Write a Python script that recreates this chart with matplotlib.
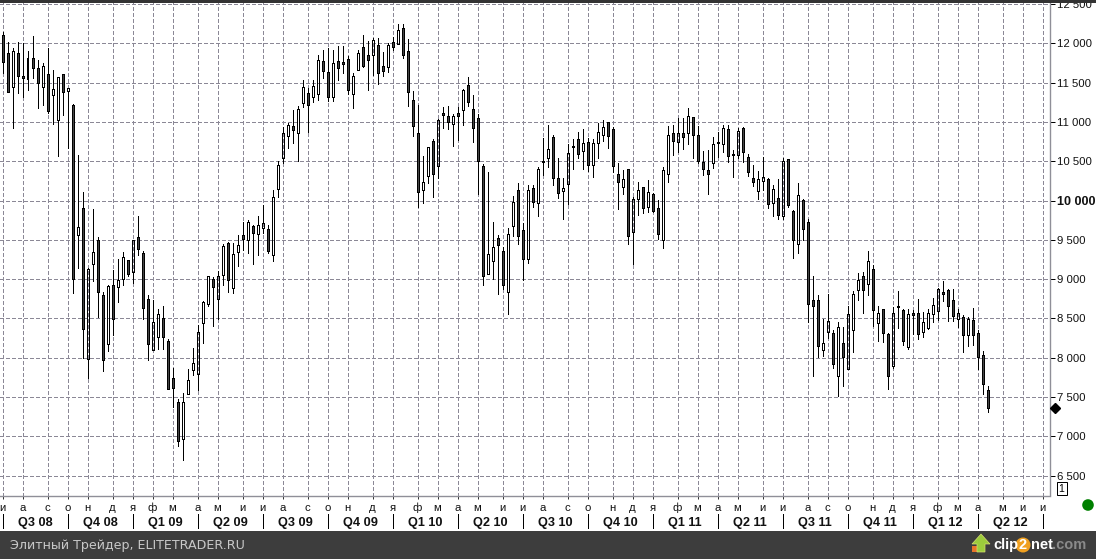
#!/usr/bin/env python3
"""Недельные свечи, 2008-2012, скриншот терминала."""

import matplotlib
matplotlib.use('Agg')
import matplotlib.pyplot as plt
import numpy as np
from matplotlib.patches import Circle, Polygon, Rectangle

W, H = 1096, 559

highs = [
    12140, 12013, 11937, 12013, 12000, 11902, 12093, 11784, 11746, 11937,
    11661, 11568, 11606, 11435, 11224, 10579, 10109, 9138, 9893, 9533,
    8833, 8922, 9117, 9257, 9342, 9244, 9498, 9800, 9354, 8795,
    8731, 8617, 8655, 8235, 7874, 7472, 7548, 7853, 8121, 8417,
    8718, 9037, 9024, 9104, 9443, 9469, 9460, 9558, 9723, 9749,
    9685, 9800, 9943, 9685, 10130, 10499, 10939, 10983, 11148, 11199,
    11530, 11432, 11530, 11848, 11911, 11937, 11911, 11962, 11962, 11835,
    11622, 11915, 12106, 12026, 12064, 12064, 11886, 12000, 12084, 12246,
    12246, 12051, 11390, 11215, 10567, 10677, 10779, 11034, 11186, 11199,
    11097, 11186, 11415, 11568, 11339, 11097, 10461, 10359, 9723, 9558,
    9405, 9647, 10054, 10219, 9711, 10194, 10194, 10423, 10792, 10957,
    10830, 10537, 10287, 10715, 10779, 10868, 10906, 10792, 10779, 10983,
    11025, 11003, 10932, 10481, 10389, 10398, 10041, 10232, 10176, 10261,
    10092, 10003, 10423, 10944, 10957, 11046, 11046, 11173, 11067, 10944,
    10626, 10639, 10805, 10872, 10961, 10961, 10639, 10919, 10932, 10588,
    10448, 10372, 10554, 10283, 10194, 10270, 10537, 10525, 9876, 10219,
    10016, 9761, 9037, 8795, 8489, 8807, 8350, 8451, 8388, 8655,
    8853, 9075, 9087, 9354, 9176, 8655, 8620, 8311, 8642, 8846,
    8617, 8617, 8604, 8744, 8579, 8617, 8757, 8884, 8973, 8871,
    8871, 8617, 8541, 8515, 8629, 8350, 8083, 7637,
]
body_tops = [
    12102, 11873, 11898, 11873, 11580, 11809, 11809, 11682, 11708, 11606,
    11415, 11568, 11606, 11428, 11212, 9660, 9901, 9125, 9342, 9494,
    8795, 8909, 8922, 8986, 9278, 9240, 9494, 9540, 9329, 8744,
    8451, 8553, 8502, 8210, 7739, 7434, 7434, 7714, 7930, 8324,
    8706, 9037, 8998, 9037, 9418, 9456, 9316, 9431, 9558, 9723,
    9672, 9685, 9711, 9634, 10041, 10448, 10855, 10957, 10944, 11161,
    11441, 11364, 11453, 11784, 11771, 11631, 11746, 11771, 11759, 11797,
    11580, 11873, 11949, 11848, 12038, 11975, 11708, 11975, 12013, 12166,
    12191, 11898, 11275, 10855, 10232, 10677, 10754, 11021, 11110, 11072,
    11072, 11110, 11402, 11466, 11161, 11046, 10436, 9316, 9405, 9520,
    9354, 9571, 9978, 10130, 9622, 10130, 10156, 10398, 10499, 10652,
    10805, 10283, 10156, 10601, 10690, 10779, 10728, 10741, 10728, 10868,
    10932, 10995, 10906, 10334, 10270, 10398, 10016, 10130, 10169, 10105,
    10080, 9901, 10385, 10830, 10855, 10855, 10855, 11072, 11059, 10830,
    10487, 10385, 10715, 10741, 10919, 10906, 10588, 10881, 10919, 10550,
    10283, 10270, 10296, 10278, 10143, 10029, 10499, 10525, 9871, 10067,
    10003, 9723, 8731, 8731, 8184, 8464, 8311, 8388, 8184, 8553,
    8807, 8986, 9037, 9227, 9125, 8566, 8617, 8299, 8566, 8655,
    8604, 8553, 8566, 8566, 8451, 8566, 8668, 8871, 8833, 8858,
    8731, 8566, 8515, 8489, 8477, 8311, 8032, 7587,
]
body_bottoms = [
    11766, 11385, 11448, 11588, 11563, 11550, 11690, 11499, 11448, 11143,
    11346, 11028, 11385, 11397, 9000, 9558, 8362, 7981, 9189, 8833,
    7976, 8172, 8489, 8897, 9000, 9070, 9087, 9380, 8629, 8172,
    8103, 8268, 8268, 7607, 7620, 6938, 6963, 7543, 7841, 7790,
    8439, 8688, 8897, 8744, 9049, 8986, 8884, 9342, 9515, 9494,
    9583, 9571, 9647, 9354, 9304, 10143, 10537, 10817, 10901, 10855,
    11245, 11219, 11321, 11351, 11644, 11321, 11321, 11682, 11741, 11410,
    11359, 11657, 11708, 11784, 11848, 11619, 11644, 11695, 11949, 11987,
    11848, 11377, 10952, 10105, 10130, 10308, 10334, 10436, 11084, 10995,
    10970, 11072, 11148, 11257, 10919, 10499, 9044, 9062, 9227, 9431,
    8922, 8833, 9672, 9545, 9253, 9253, 9985, 9965, 10487, 10537,
    10283, 10092, 10118, 10207, 10677, 10588, 10626, 10448, 10448, 10728,
    10830, 10817, 10436, 10232, 10169, 9545, 9596, 10016, 9901, 9914,
    9863, 9571, 9494, 10334, 10754, 10741, 10805, 10855, 10830, 10499,
    10398, 10334, 10474, 10728, 10715, 10563, 10576, 10576, 10614, 10359,
    10232, 10118, 10245, 9952, 9965, 9812, 9800, 9940, 9494, 9443,
    9634, 8680, 8655, 8146, 8095, 8324, 7917, 7764, 8006, 7853,
    8350, 8858, 8858, 8935, 8604, 8439, 8311, 7764, 7892, 8642,
    8210, 8133, 8541, 8299, 8324, 8375, 8553, 8591, 8808, 8655,
    8528, 8489, 8286, 8286, 8286, 8006, 7663, 7358,
]
lows = [
    11619, 11385, 10927, 11372, 11321, 11406, 11555, 11181, 11219, 11117,
    10978, 10570, 11092, 10672, 8828, 9146, 7993, 7743, 8980, 8523,
    7836, 8090, 8290, 8713, 8930, 9044, 8951, 9311, 8497, 7976,
    8095, 8116, 8116, 7607, 7378, 6878, 6700, 7535, 7781, 7590,
    8184, 8662, 8408, 8497, 8926, 8841, 8828, 9171, 9375, 9337,
    9197, 9304, 9591, 9329, 9235, 10049, 10474, 10668, 10728, 10503,
    11190, 10868, 11254, 11279, 11563, 11266, 11266, 11537, 11619, 11355,
    11181, 11657, 11695, 11410, 11593, 11479, 11588, 11639, 11915, 11987,
    11817, 11207, 10825, 9922, 9973, 10227, 10049, 10291, 10919, 10914,
    10698, 10770, 10965, 11207, 10749, 10080, 8930, 9062, 9006, 8815,
    8871, 8561, 9545, 9443, 8986, 9202, 9914, 9807, 10321, 10427,
    10202, 10029, 9769, 9956, 10405, 10537, 10405, 10380, 10303, 10537,
    10754, 10665, 10367, 9896, 10080, 9443, 9189, 9820, 9838, 9851,
    9851, 9507, 9393, 10240, 10583, 10614, 10652, 10719, 10537, 10474,
    10321, 10080, 10418, 10558, 10621, 10487, 10296, 10537, 10487, 10312,
    10185, 10024, 10134, 9909, 9807, 9769, 9761, 9922, 9273, 9337,
    9498, 8459, 7768, 8014, 8027, 8248, 7866, 7510, 7645, 7853,
    8070, 8731, 8573, 8795, 8400, 8210, 8197, 7599, 7866, 8379,
    8159, 8116, 8299, 8235, 8261, 8362, 8451, 8477, 8718, 8472,
    8464, 8391, 8077, 8150, 8159, 7861, 7543, 7314,
]
# индексы растущих (светлых) свечей
up_weeks = [
    2, 5, 8, 10, 11, 13, 15, 17, 18, 21, 23, 24, 26, 30, 31, 36, 37, 38, 39, 40,
    41, 43, 44, 46, 47, 49, 51, 52, 54, 55, 56, 57, 59, 60, 62, 63, 66, 70, 71,
    74, 77, 79, 84, 85, 87, 90, 92, 97, 98, 101, 102, 105, 107, 109, 112, 113,
    116, 118, 119, 120, 124, 126, 127, 129, 132, 133, 135, 137, 142, 144, 147,
    151, 152, 154, 156, 159, 164, 165, 167, 169, 170, 171, 173, 175, 178, 181,
    184, 185, 186, 187, 191, 193,
]

month_weeks = [
    0, 4, 9, 13, 17, 22, 26, 30, 34, 39, 43, 48, 52, 56, 61, 65, 69, 74, 78, 83,
    87, 91, 95, 100, 104, 108, 113, 117, 122, 126, 130, 135, 139, 143, 147, 152,
    156, 161, 165, 169, 174, 178, 182, 187, 191, 195, 200, 204, 208,
]
month_labels = list('иасондяфмамииасондяфмамииасондяфмамииасондяфмамии')
quarter_labels = [
    'Q3 08', 'Q4 08', 'Q1 09', 'Q2 09', 'Q3 09', 'Q4 09', 'Q1 10', 'Q2 10',
    'Q3 10', 'Q4 10', 'Q1 11', 'Q2 11', 'Q3 11', 'Q4 11', 'Q1 12', 'Q2 12',
]
price_ticks = [6500, 7000, 7500, 8000, 8500, 9000, 9500, 10000, 10500, 11000,
               11500, 12000, 12500]
last_price = 7361

GRID = '#8b8896'
AXIS = '#8f8f98'
DARK_BODY = '#444444'
FOOTER = '#3d3d3d'
LW = 0.72  # ровно 1 px при dpi=100

plt.rcParams['font.family'] = ['Liberation Sans', 'DejaVu Sans']

fig = plt.figure(figsize=(W / 100, H / 100), dpi=100, facecolor='white')
ax = fig.add_axes([0, (H - 495.5) / H, 1049.5 / W, 495.5 / H])
ax.set_xlim(-0.5, 209.4)
ax.set_ylim(6248, 12551)

# Сетка
ax.set_axisbelow(True)
ax.grid(True, color=GRID, lw=LW, linestyle=(0, (4, 2.5)), antialiased=False)

# Свечи
x = np.arange(len(highs))
is_up = np.isin(x, up_weeks)
ax.vlines(x, body_tops, highs, color='black', lw=LW, antialiased=False, zorder=3)
ax.vlines(x, lows, body_bottoms, color='black', lw=LW, antialiased=False, zorder=3)
heights = np.array(body_tops) - np.array(body_bottoms)
ax.bar(x[is_up], heights[is_up], bottom=np.array(body_bottoms)[is_up], width=0.4,
       facecolor='none', edgecolor='black', lw=LW, antialiased=False, zorder=4)
ax.bar(x[~is_up], heights[~is_up], bottom=np.array(body_bottoms)[~is_up], width=0.4,
       facecolor=DARK_BODY, edgecolor='black', lw=LW, antialiased=False, zorder=4)

# Оси
for side in ('top', 'left'):
    ax.spines[side].set_visible(False)
for side in ('right', 'bottom'):
    ax.spines[side].set_color(AXIS)
    ax.spines[side].set_linewidth(1.0)
ax.yaxis.tick_right()
ax.set_yticks(price_ticks)
ax.set_yticklabels([f'{p:,}'.replace(',', ' ') for p in price_ticks], fontsize=8.2,
                   color='#111111')
ax.tick_params(axis='y', length=3.6, width=LW, pad=1.5, color='black')
for label, p in zip(ax.get_yticklabels(), price_ticks):
    if p == 10000:
        label.set_fontweight('bold')
        label.set_fontsize(9)
ax.set_xticks(month_weeks)
ax.set_xticklabels(month_labels, fontsize=8.2, color='#111111')
ax.tick_params(axis='x', length=2.2, width=LW, pad=3, color='#333333')

# Кварталы
px = ax.get_xaxis_transform()
for i, q_label in enumerate(quarter_labels):
    start = month_weeks[i * 3]
    end = month_weeks[(i + 1) * 3]
    ax.text((start + end) / 2, -0.0545, q_label, transform=px, ha='center', va='center',
            fontsize=9.2, fontweight='bold', color='#111111', clip_on=False)
for q_week in month_weeks[::3]:
    ax.plot([q_week, q_week], [-0.0375, -0.0665], transform=px, color='black', lw=LW,
            clip_on=False, antialiased=False)

# Текущая цена
ax.plot([210.4], [last_price], marker='D', ms=4.6, color='black', clip_on=False, zorder=5)

# Рамка окна, подвал, логотип
over = fig.add_axes([0, 0, 1, 1], facecolor='none')
over.set_xlim(0, W)
over.set_ylim(H, 0)
over.axis('off')

over.plot([0, W], [1, 1], color='#333333', lw=1.0, antialiased=False)
over.add_patch(Rectangle((1056.5, 481.5), 10, 13, facecolor='white', edgecolor='black', lw=LW))
over.text(1061.5, 488.5, '1', ha='center', va='center', fontsize=7.5, color='black')
over.add_patch(Circle((1088, 505), 5.8, facecolor='#008000', edgecolor='none'))

over.add_patch(Rectangle((0, 531), W, 28, facecolor=FOOTER, edgecolor='none'))
over.text(10, 545, 'Элитный Трейдер, ELITETRADER.RU', ha='left', va='center', fontsize=9.1,
          family='DejaVu Sans', color='#c8c8c8')

over.add_patch(Rectangle((972, 546), 12, 6, facecolor='#e8742a', edgecolor='none'))
over.add_patch(Polygon([(981, 534), (972, 544), (977, 544), (977, 552), (985, 552),
                        (985, 544), (990, 544)], facecolor='#9ccc3c', edgecolor='#d8e070', lw=0.5))
over.text(993, 545, 'clip', ha='left', va='center', fontsize=10.5, fontweight='bold',
          color='white')
over.add_patch(Circle((1023, 545), 7.5, facecolor='#f0a020', edgecolor='none'))
over.text(1023, 545, '2', ha='center', va='center', fontsize=10.5, fontweight='bold',
          color='white')
over.text(1031, 545, 'net', ha='left', va='center', fontsize=10.5, fontweight='bold',
          color='white')
over.text(1052, 545, '.com', ha='left', va='center', fontsize=10.5, fontweight='bold',
          color='#8a8a8a')

fig.savefig('out.png', dpi=100)
